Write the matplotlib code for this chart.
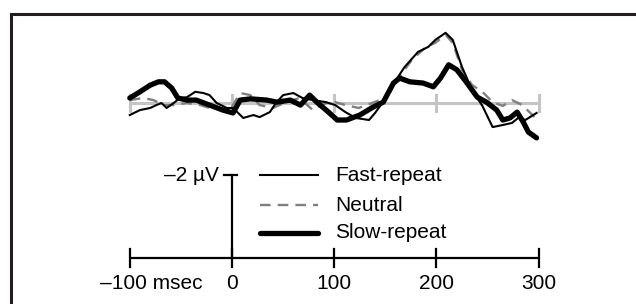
import numpy as np
import matplotlib
matplotlib.use("Agg")
import matplotlib.pyplot as plt
from matplotlib.lines import Line2D

plt.rcParams['font.family'] = ['Liberation Sans', 'DejaVu Sans']

# ERP waveforms, time in msec, amplitude in microvolts (negative plotted up)
fast_t = [-100, -90, -80, -74, -69, -64, -57, -51, -44, -36, -28, -22, -15, -5, 1, 6, 11, 21, 27, 37,
          43, 50, 60, 69, 79, 92, 101, 111, 121, 134, 140, 147, 156, 169, 182, 192, 199, 209, 216, 225,
          235, 245, 255, 265, 274, 281, 287, 298]
fast_v = [0.29, 0.17, 0.12, 0.05, 0.0, 0.12, 0.0, -0.12, -0.14, -0.27, -0.24, -0.19, 0.0, 0.12, 0.12, 0.24,
          0.36, 0.29, 0.34, 0.22, 0.0, -0.19, -0.24, -0.12, -0.07, -0.02, 0.05, 0.22, 0.36, 0.41, 0.24, 0.0,
          -0.39, -0.87, -1.23, -1.35, -1.52, -1.69, -1.52, -0.87, -0.31, 0.07, 0.58, 0.53, 0.48, 0.34, 0.41, 0.24]

neutral_t = [-100, -87, -77, -67, -57, -44, -31, -22, -12, -2, 8, 18, 27, 40, 53, 66, 79, 92, 101, 111,
             124, 137, 150, 163, 176, 189, 199, 209, 216, 225, 235, 245, 255, 265, 274, 284, 294, 299]
neutral_v = [-0.07, -0.12, -0.07, 0.05, 0.05, 0.0, 0.05, 0.12, 0.12, 0.17, -0.24, -0.19, 0.05, 0.12, -0.02,
             -0.12, 0.17, 0.0, -0.02, 0.05, 0.12, 0.0, -0.12, -0.60, -1.04, -1.33, -1.45, -1.64, -1.45, -0.80,
             -0.43, -0.27, -0.02, 0.07, -0.07, 0.05, 0.29, 0.43]

slow_t = [-100, -90, -80, -72, -66, -59, -53, -44, -35, -22, -9, 1, 8, 18, 34, 44, 57, 67, 76, 83, 93, 103,
          112, 125, 138, 148, 158, 164, 174, 187, 197, 204, 212, 220, 230, 240, 249, 259, 265, 272, 279, 285,
          290, 298]
slow_v = [-0.12, -0.27, -0.43, -0.51, -0.51, -0.36, -0.12, -0.07, -0.07, 0.05, 0.17, 0.24, -0.07, -0.10, -0.07,
          -0.02, -0.07, 0.05, -0.19, -0.02, 0.19, 0.41, 0.41, 0.29, 0.10, -0.02, -0.48, -0.60, -0.51, -0.48,
          -0.39, -0.60, -0.92, -0.80, -0.48, -0.14, -0.02, 0.17, 0.41, 0.36, 0.22, 0.46, 0.70, 0.84]

ticks = [-100, 0, 100, 200, 300]
tick_labels = ['\u2013100 msec', '0', '100', '200', '300']
names = ['Fast-repeat', 'Neutral', 'Slow-repeat']

fs = 15

fig = plt.figure(figsize=(6.36, 3.04), dpi=100)
ax = fig.add_axes([0, 0, 1, 1])
ax.set_xlim(-227, 395.3)
ax.set_ylim(4.84, -2.48)
ax.axis('off')

# gray zero line with ticks
ax.plot([-100, 300], [0, 0], color='#c4c4c4', lw=2.2, solid_capstyle='butt', zorder=1)
for t in ticks:
    ax.plot([t, t], [-0.19, 0.19], color='#c4c4c4', lw=2.2, zorder=1)

ax.plot(neutral_t, neutral_v, color='#7f7f7f', lw=1.7, dashes=(4.5, 3), zorder=2)
ax.plot(fast_t, fast_v, color='black', lw=1.5, zorder=3)
ax.plot(slow_t, slow_v, color='black', lw=3.8, solid_capstyle='round', zorder=4)

# scale bars
base = 3.735
ax.plot([-100, 300], [base, base], color='black', lw=1.6, solid_capstyle='butt')
for t, lab in zip(ticks, tick_labels):
    ax.plot([t, t], [base - 0.22, base + 0.22], color='black', lw=1.6)
    if t == -100:
        ax.text(-129, base + 0.62, lab, ha='left', va='center', fontsize=fs)
    else:
        ax.text(t, base + 0.62, lab, ha='center', va='center', fontsize=fs)
ax.plot([0, 0], [base, base - 2], color='black', lw=1.6)
ax.plot([-8, 5], [base - 2, base - 2], color='black', lw=1.6)
ax.text(-13, base - 2, '\u20132 \u00b5V', ha='right', va='center', fontsize=fs)

# legend
styles = [dict(color='black', lw=1.5),
          dict(color='#7f7f7f', lw=1.7, dashes=(4.5, 3)),
          dict(color='black', lw=3.8, solid_capstyle='round')]
rows = [1.735, 2.458, 3.13]
for name, st, y in zip(names, styles, rows):
    ax.plot([27.4, 84.1], [y, y], **st)
    ax.text(100.8, y, name, ha='left', va='center', fontsize=fs)

# frame open at right and bottom
fig.add_artist(Line2D([10.5 / 636, 10.5 / 636], [0, 1 - 13.5 / 304], transform=fig.transFigure,
                      color='#231f20', lw=2.2, solid_capstyle='projecting'))
fig.add_artist(Line2D([10.5 / 636, 1], [1 - 13.5 / 304, 1 - 13.5 / 304], transform=fig.transFigure,
                      color='#231f20', lw=2.2, solid_capstyle='projecting'))

fig.savefig('out.png', dpi=100)
